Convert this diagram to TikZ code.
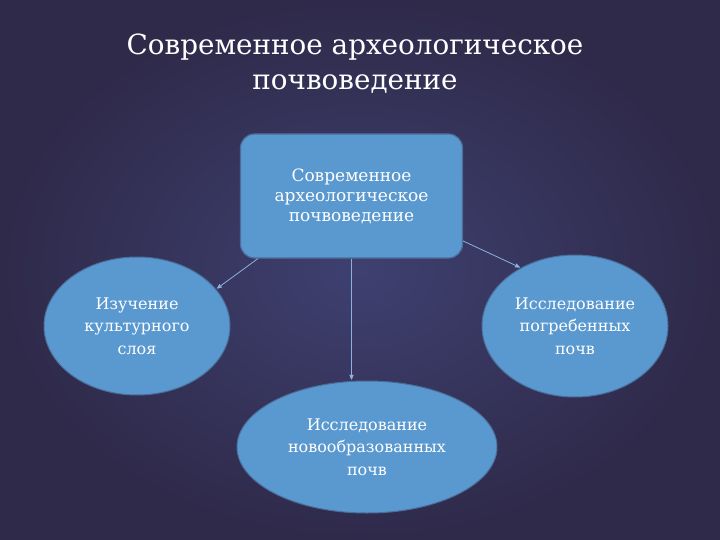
\documentclass[tikz,border=0pt]{standalone}
\usepackage{fontspec}
\setmainfont{DejaVu Serif}
\usepackage{tikz}
\usetikzlibrary{arrows,shapes,positioning}
\definecolor{bgdark}{HTML}{2F2A4A}
\definecolor{bglight}{HTML}{3E4070}
\definecolor{boxfill}{HTML}{5A98D0}
\definecolor{boxline}{HTML}{4A6E9A}
\definecolor{linkcol}{HTML}{8EB0DC}

\begin{document}
\begin{tikzpicture}[x=1pt,y=-1pt,
box/.style={
rectangle,
rounded corners=14pt,
draw=boxline,
line width=1.2pt,
fill=boxfill,
text=white,
minimum width=222pt,
minimum height=124pt,
align=center,
font=\fontsize{17}{20}\selectfont
},
topic/.style={
ellipse,
draw=boxline,
line width=1pt,
fill=boxfill,
text=white,
inner sep=0pt,
align=center,
font=\fontsize{16}{22.5}\selectfont
},
to/.style={->,>=stealth',shorten >=1pt,draw=linkcol,line width=0.8pt},
]
\useasboundingbox (0,0) rectangle (720,540);
\shade[inner color=bglight,outer color=bgdark] (0,0) rectangle (720,540);

\node (title) [text=white,align=center,font=\fontsize{27.8}{35}\selectfont] at (355,64) {Современное археологическое\\почвоведение};

\node (main) [box] at (351.5,196) {Современное\\археологическое\\почвоведение};
\node (layer) [topic,minimum width=186pt,minimum height=138pt] at (137,326) {Изучение\\культурного\\слоя};
\node (buried) [topic,minimum width=186pt,minimum height=142pt] at (575,326) {Исследование\\погребенных\\почв};
\node (newsoil) [topic,minimum width=260pt,minimum height=132pt] at (367,447) {Исследование\\новообразованных\\почв};

\draw[to] (main.south west) ++(18pt,0) -- (layer.25);
\draw[to] (main.south) -- (main.south |- newsoil.north);
\draw[to] (main.east) ++(0,45) -- (buried.133);
\end{tikzpicture}
\end{document}
